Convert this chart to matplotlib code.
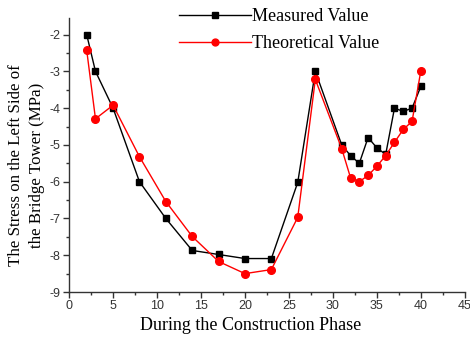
import matplotlib
matplotlib.use("Agg")
import matplotlib.pyplot as plt
from matplotlib.ticker import MultipleLocator

plt.rcParams["axes.unicode_minus"] = False

phase = [2, 3, 5, 8, 11, 14, 17, 20, 23, 26, 28, 31, 32, 33, 34, 35, 36, 37, 38, 39, 40]
measured = [-2.0, -3.0, -4.0, -6.0, -7.0, -7.87, -7.98, -8.09, -8.09, -6.02, -3.0,
            -5.0, -5.29, -5.5, -4.8, -5.08, -5.26, -4.0, -4.09, -4.0, -3.41]
theoretical = [-2.42, -4.29, -3.92, -5.32, -6.54, -7.49, -8.17, -8.5, -8.39, -6.97, -3.22,
               -5.1, -5.89, -6.0, -5.83, -5.58, -5.29, -4.93, -4.58, -4.36, -2.98]

fig = plt.figure(figsize=(4.7, 3.37), dpi=100)
ax = fig.add_axes([0.147, 0.1335, 0.842, 0.813])

ax.plot(phase, measured, color="black", lw=1.0, marker="s", ms=5, label="Measured Value")
ax.plot(phase, theoretical, color="red", lw=1.0, marker="o", ms=5.5, label="Theoretical Value")

ax.set_xlim(0, 45)
ax.set_ylim(-9, -1.55)
ax.xaxis.set_major_locator(MultipleLocator(5))
ax.xaxis.set_minor_locator(MultipleLocator(2.5))
ax.yaxis.set_major_locator(MultipleLocator(1))
ax.yaxis.set_minor_locator(MultipleLocator(0.5))
for s in ["top", "right"]:
    ax.spines[s].set_visible(False)
for s in ["left", "bottom"]:
    ax.spines[s].set_color("#333333")
    ax.spines[s].set_linewidth(1.0)
ax.tick_params(which="major", direction="out", length=4, width=1, colors="#333333",
               labelsize=9, pad=2)
ax.tick_params(which="minor", direction="out", length=2.5, width=1, colors="#333333")
for lab in ax.get_xticklabels() + ax.get_yticklabels():
    lab.set_family("Liberation Sans")

fig.text(0.534, 0.035, "During the Construction Phase", family="Liberation Serif",
         fontsize=13, ha="center", va="center")
fig.text(0.056, 0.51, "The Stress on the Left Side of\nthe Bridge Tower (MPa)",
         family="Liberation Serif", fontsize=12.2, linespacing=1.45, rotation=90,
         ha="center", va="center", multialignment="center")

leg = ax.legend(loc="upper left", bbox_to_anchor=(0.237, 1.095), frameon=False,
                prop={"family": "Liberation Serif", "size": 13}, handlelength=4.0,
                handletextpad=0.05, labelspacing=0.55, markerscale=0.9)

fig.savefig("out.png", dpi=100)
